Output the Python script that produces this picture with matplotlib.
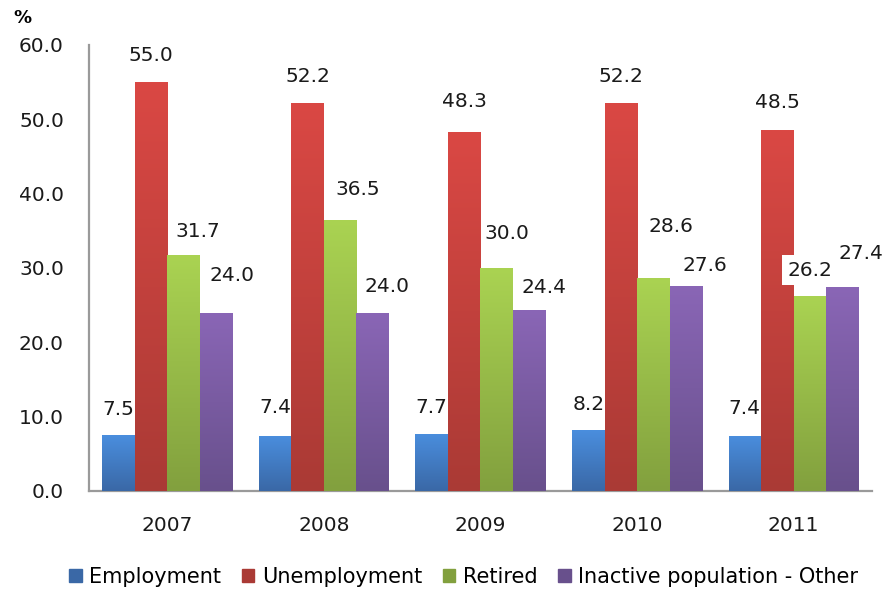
import numpy as np
import matplotlib.pyplot as plt
from matplotlib.colors import LinearSegmentedColormap
from matplotlib.patches import Patch

years = ["2007", "2008", "2009", "2010", "2011"]
series = ["Employment", "Unemployment", "Retired", "Inactive population - Other"]
employment = [7.5, 7.4, 7.7, 8.2, 7.4]
unemployment = [55.0, 52.2, 48.3, 52.2, 48.5]
retired = [31.7, 36.5, 30.0, 28.6, 26.2]
inactive = [24.0, 24.0, 24.4, 27.6, 27.4]
values = [employment, unemployment, retired, inactive]

# gradient colours (top, bottom) for each series
grads = [("#4a8ede", "#3a68a6"),
         ("#da4844", "#aa3a35"),
         ("#aad352", "#82a03e"),
         ("#8a66b6", "#68508c")]

# label offsets in pixels (dx, dy above bar top), per year then series
label_dx = [[0, 0, 14, 16], [0, 0, 18, 14], [0, 0, 10, 15], [0, 0, 18, 19], [0, 0, 0, 18]]
label_dy = [[26, 27, 24, 37], [28, 26, 30, 26], [26, 30, 34, 22], [26, 26, 52, 20], [27, 28, 26, 34]]
boxed = [(4, 2)]

fig = plt.figure(figsize=(8.88, 5.89), dpi=100)
ax = fig.add_axes([0.1002, 0.1664, 0.8818, 0.7572])

x = np.arange(len(years))
w = 0.208
grad = np.linspace(0, 1, 256).reshape(-1, 1)

for s, vals in enumerate(values):
    top, bot = grads[s]
    cmap = LinearSegmentedColormap.from_list("g%d" % s, [bot, top])
    bars = ax.bar(x + (s - 1.5) * w, vals, w, color=top, zorder=2, linewidth=0)
    for b in bars:
        x0 = b.get_x()
        im = ax.imshow(grad, extent=[x0, x0 + b.get_width(), 0, b.get_height()],
                       origin="lower", aspect="auto", cmap=cmap, zorder=3)
        im.set_clip_path(b)

for i in range(len(years)):
    for s, vals in enumerate(values):
        kw = {}
        if (i, s) in boxed:
            kw["bbox"] = dict(boxstyle="square,pad=0.28", fc="white", ec="none")
        ax.annotate("%.1f" % vals[i], xy=(x[i] + (s - 1.5) * w, vals[i]),
                    xytext=(label_dx[i][s] * 0.72, label_dy[i][s] * 0.72),
                    textcoords="offset points", ha="center", va="center",
                    fontsize=14.5, color="#1a1a1a", zorder=5, **kw)

ax.set_xlim(-0.5, len(years) - 0.5)
ax.set_ylim(0, 60)
ax.set_yticks(np.arange(0, 61, 10))
ax.set_yticklabels(["%.1f" % v for v in np.arange(0, 61, 10)])
ax.set_xticks(x)
ax.set_xticklabels(years)
ax.tick_params(axis="both", length=0, labelsize=14.5, colors="#1a1a1a")
ax.tick_params(axis="y", pad=18)
ax.tick_params(axis="x", pad=18)
for sp in ["top", "right"]:
    ax.spines[sp].set_visible(False)
for sp in ["left", "bottom"]:
    ax.spines[sp].set_color("#9a9a9a")
    ax.spines[sp].set_linewidth(1.6)

fig.text(0.025, 0.969, "%", fontsize=13, fontweight="bold", ha="center", va="center")

handles = [Patch(color=grads[s][1]) for s in range(4)]
fig.legend(handles, series, loc="center", bbox_to_anchor=(0.522, 0.02), ncol=4,
           frameon=False, fontsize=15, handlelength=0.6, handleheight=0.6,
           handletextpad=0.35, columnspacing=1.0)

fig.savefig("out.png", dpi=100)
